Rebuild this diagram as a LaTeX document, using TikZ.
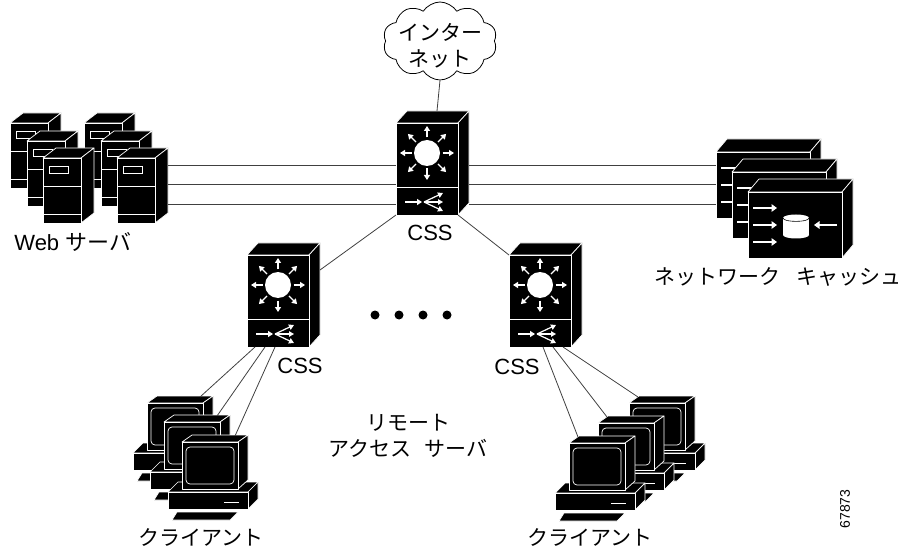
\documentclass[tikz,border=0pt]{standalone}
\usepackage{fontspec}
\setmainfont{Liberation Sans}
\newfontfamily\jpfont{Noto Sans CJK JP}
\usetikzlibrary{arrows.meta,shapes.symbols}

\tikzset{
  link/.style={draw=black!75, line width=0.8pt},
  solidface/.style={fill=black, draw=white, line width=0.7pt, line join=round},
  facet/.style={draw=white, line width=0.7pt},
  warrow/.style={draw=white, line width=1.2pt, -{Triangle[length=5pt,width=6pt]}},
  txt/.style={font=\fontsize{22}{26}\selectfont, inner sep=0pt},
  jptxt/.style={font=\jpfont\fontsize{21}{26}\selectfont, inner sep=0pt, align=center},
  dot/.style={circle, fill=black, inner sep=0pt, minimum size=9pt},
  % content switch: front face top-left at the origin
  cssbox/.pic={
    \path[solidface] (0,0) -- (11,-12) -- (73,-12) -- (62,0) -- cycle;
    \path[solidface] (62,0) -- (73,-12) -- (73,80) -- (62,92) -- cycle;
    \path[solidface] (0,0) rectangle (62,92);
    \draw[facet] (0,64) -- (62,64);
    \fill[white] (31,30) circle (13);
    \foreach \a in {0,45,...,315}
      \draw[warrow, shift={(31,30)}] (\a:15.5) -- (\a:27);
    \draw[warrow, -{Triangle[length=5pt,width=6pt]}] (9,79) -- (26,79);
    \foreach \e in {70,79,88}
      \draw[warrow, -{Triangle[length=5pt,width=5.5pt]}] (28,79) -- (47,\e);
    \coordinate (-top) at (41,-12);
    \coordinate (-bl) at (0,92);
    \coordinate (-br) at (62,92);
    \coordinate (-tl) at (0,0);
    \coordinate (-side) at (73,15);
    \coordinate (-l1) at (0,42);
    \coordinate (-l2) at (0,61);
    \coordinate (-l3) at (0,81);
    \coordinate (-r1) at (73,42);
    \coordinate (-r2) at (73,61);
    \coordinate (-r3) at (73,81);
    \foreach \i/\x in {1/8,2/18,3/28,4/34,5/44,6/54}
      \coordinate (-b\i) at (\x,92);
  },
  % server tower
  tower/.pic={
    \path[solidface] (0,0) -- (13,-10) -- (51,-10) -- (38,0) -- cycle;
    \path[solidface] (38,0) -- (51,-10) -- (51,55) -- (38,65) -- cycle;
    \path[solidface] (0,0) rectangle (38,65);
    \draw[facet] (6,8) rectangle (25,15);
    \draw[facet] (0,28) -- (38,28) (0,56) -- (38,56);
    \coordinate (-r1) at (51,7);
    \coordinate (-r2) at (51,26);
    \coordinate (-r3) at (51,46);
  },
  % cache engine
  cache/.pic={
    \path[solidface] (0,0) -- (11,-13) -- (105,-13) -- (94,0) -- cycle;
    \path[solidface] (94,0) -- (105,-13) -- (105,53) -- (94,66) -- cycle;
    \path[solidface] (0,0) rectangle (94,66);
    \foreach \y in {16,33,50}
      \draw[warrow, line width=1.6pt, -{Triangle[length=5.5pt,width=7.5pt]}] (5,\y) -- (29,\y);
    \draw[warrow, line width=1.6pt, -{Triangle[length=5.5pt,width=7.5pt]}] (89,33) -- (66,33);
    \fill[white] (35,26) rectangle (61,43);
    \fill[white] (48,26) ellipse (13 and 3.5);
    \fill[white] (48,43) ellipse (13 and 3.5);
    \draw[black, line width=0.6pt] (35,26) .. controls (35,30.5) and (61,30.5) .. (61,26);
    \coordinate (-l1) at (0,13);
    \coordinate (-l2) at (0,32);
    \coordinate (-l3) at (0,52);
  },
  % desktop client: monitor front face top-left at the origin
  pc/.pic={
    \path[solidface] (-5,70) -- (56,70) -- (48,78) -- (-10,78) -- cycle;
    \path[solidface] (-14,50) -- (-4,40) -- (76,40) -- (66,50) -- cycle;
    \path[solidface] (66,50) -- (76,40) -- (76,57) -- (66,67) -- cycle;
    \path[solidface] (-14,50) rectangle (66,67);
    \draw[facet] (42,60) -- (57,60);
    \path[solidface] (0,0) -- (10,-7) -- (66,-7) -- (56,0) -- cycle;
    \path[solidface] (56,0) -- (66,-7) -- (66,38) -- (56,47) -- cycle;
    \path[solidface] (0,0) rectangle (56,47);
    \draw[facet, rounded corners=4pt] (4,5) rectangle (52,42);
    \coordinate (-tl) at (9,-6);
    \coordinate (-tr) at (53,-6);
  },
}

\begin{document}
\begin{tikzpicture}[x=1pt, y=-1pt]
\path[use as bounding box] (0,0) rectangle (916,548);

% Internet cloud
\node[cloud, draw, line width=0.8pt, cloud puffs=10, cloud puff arc=115,
      cloud ignores aspect, minimum width=114pt, minimum height=78pt,
      inner sep=0pt] (net) at (440,41) {};
\node[jptxt] (nettxt) at (440,46) {インター\\ネット};

% placement of the three content switches
\coordinate (sw0pos) at (396,123);
\coordinate (sw1pos) at (247,255);
\coordinate (sw2pos) at (509,255);

\pic (sw0) at (sw0pos) {cssbox};
\pic (sw1) at (sw1pos) {cssbox};
\pic (sw2) at (sw2pos) {cssbox};

% web server farm, back to front
\foreach \p/\x/\y in {wa1/10/123, wb1/84/123, wa2/27/141, wb2/101/141, wa3/43/158, wb3/117/158}
  \pic (\p) at (\x,\y) {tower};

% cache engines, back to front
\foreach \p/\x/\y in {ca1/716/152, ca2/732/172, ca3/748/192}
  \pic (\p) at (\x,\y) {cache};

% client desktops, back to front
\foreach \p/\x/\y in {pl1/147/403, pl2/164/422, pl3/182/442, pr1/629/403, pr2/598/423, pr3/569/443}
  \pic (\p) at (\x,\y) {pc};

% links
\draw[link] (net.south) -- (sw0-top);
\draw[link] (wb3-r1) -- (sw0-l1);
\draw[link] (wb3-r2) -- (sw0-l2);
\draw[link] (wb3-r3) -- (sw0-l3);
\draw[link] (sw0-r1) -- (ca1-l1);
\draw[link] (sw0-r2) -- (ca1-l2);
\draw[link] (sw0-r3) -- (ca1-l3);
\draw[link] (sw0-bl) -- (sw1-side);
\draw[link] (sw0-br) -- (sw2-tl);
\draw[link] (sw1-b1) -- (pl1-tr);
\draw[link] (sw1-b2) -- (pl2-tr);
\draw[link] (sw1-b3) -- (pl3-tr);
\draw[link] (sw2-b4) -- (pr3-tl);
\draw[link] (sw2-b5) -- (pr2-tl);
\draw[link] (sw2-b6) -- (pr1-tl);

% ellipsis between the remote switches
\foreach \i/\x in {1/375,2/399,3/423,4/447}
  \node[dot] (dot\i) at (\x,315) {};

% labels
\node[txt] (webtxt) at (73,242) {Web\hspace{0.3em}{\jpfont サーバ}};
\node[txt] (css0) at (430,233) {CSS};
\node[txt] (css1) at (300,366) {CSS};
\node[txt] (css2) at (517,367) {CSS};
\node[jptxt] (cachetxt) at (778,277) {ネットワーク\hspace{0.8em}キャッシュ};
\node[jptxt] (rastxt) at (408,436) {リモート\\アクセス\hspace{0.6em}サーバ};
\node[jptxt] (cl1txt) at (201,537) {クライアント};
\node[jptxt] (cl2txt) at (590,537) {クライアント};
\node[font=\fontsize{14}{16}\selectfont, rotate=90, inner sep=0pt] (figid) at (845,509) {67873};
\end{tikzpicture}
\end{document}
